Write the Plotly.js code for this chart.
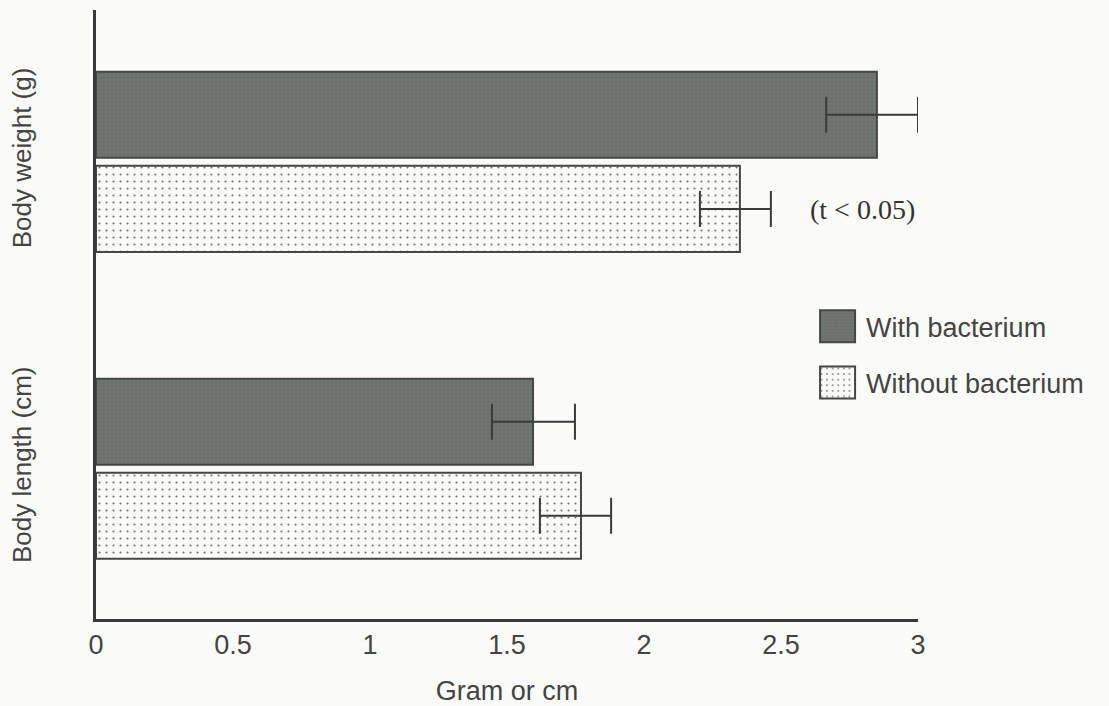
<!DOCTYPE html>
<html>
<head>
<meta charset="utf-8">
<script src="https://cdn.plot.ly/plotly-3.0.1.min.js"></script>
<style>
  html, body { margin: 0; padding: 0; background: #fbfbf9; }
  #chart { width: 1109px; height: 706px; }
</style>
</head>
<body>
<div id="chart"></div>
<script>
const categories = ['Body weight (g)', 'Body length (cm)'];
const seriesNames = ['With bacterium', 'Without bacterium'];
const withValues = [2.85, 1.595];
const withErrPlus = [0.15, 0.153];
const withErrMinus = [0.185, 0.15];
const withoutValues = [2.35, 1.77];
const withoutErrPlus = [0.113, 0.11];
const withoutErrMinus = [0.146, 0.15];
const xTickValues = [0, 0.5, 1, 1.5, 2, 2.5, 3];
const xTickLabels = ['0', '0.5', '1', '1.5', '2', '2.5', '3'];
const annotationText = '(t < 0.05)';

const errStyle = (plus, minus) => ({
  type: 'data', symmetric: false, array: plus, arrayminus: minus,
  color: '#3a3a3a', thickness: 2, width: 18
});

const traces = [
  {
    type: 'bar', orientation: 'h', name: seriesNames[0], legendgroup: 'a',
    y: categories, x: withValues,
    marker: {
      color: '#70746f',
      line: { color: '#444744', width: 2 },
      pattern: { shape: '+', fgcolor: '#7c807a', bgcolor: '#6b6f6a', size: 4, solidity: 0.25 }
    },
    error_x: errStyle(withErrPlus, withErrMinus),
    hoverinfo: 'x+y+name'
  },
  {
    type: 'bar', orientation: 'h', name: seriesNames[1], legendgroup: 'b',
    y: categories, x: withoutValues,
    marker: {
      color: '#fbfbf9',
      line: { color: '#444744', width: 2 },
      pattern: { shape: '.', fgcolor: '#707070', bgcolor: '#fbfbf9', size: 7, solidity: 0.07 }
    },
    error_x: errStyle(withoutErrPlus, withoutErrMinus),
    hoverinfo: 'x+y+name'
  }
];

const layout = {
  width: 1109, height: 706,
  paper_bgcolor: '#fbfbf9', plot_bgcolor: '#fbfbf9',
  margin: { l: 96, r: 191, t: 10, b: 87 },
  barmode: 'group', bargap: 0.387, bargroupgap: 0.085,
  font: { family: 'Liberation Sans, Arial, sans-serif', color: '#444' },
  showlegend: true,
  legend: {
    x: 0.876, y: 0.52, xanchor: 'left', yanchor: 'top',
    font: { size: 27, color: '#444' },
    bgcolor: 'rgba(0,0,0,0)', tracegroupgap: 18, itemwidth: 40
  },
  xaxis: {
    range: [0, 3], tickvals: xTickValues, ticktext: xTickLabels,
    showgrid: false, zeroline: false,
    showline: true, linecolor: '#3a3a3a', linewidth: 3,
    ticks: '', tickfont: { size: 27, color: '#444' },
    title: { text: 'Gram or cm', font: { size: 27, color: '#444' }, standoff: 24 }
  },
  yaxis: {
    type: 'category', categoryorder: 'array', categoryarray: categories,
    range: [1.49, -0.495],
    showgrid: false, zeroline: false,
    showline: true, linecolor: '#3a3a3a', linewidth: 3,
    ticks: '', tickangle: -90, ticklabelstandoff: 52,
    tickfont: { size: 26, color: '#444' }
  },
  annotations: [
    {
      xref: 'x', yref: 'paper', x: 2.6, y: 0.672, xanchor: 'left', yanchor: 'middle',
      text: annotationText, showarrow: false,
      font: { family: 'Liberation Serif, Times New Roman, serif', size: 28, color: '#333' }
    }
  ]
};

function enlargeLegendSwatches(gd) {
  gd.querySelectorAll('.legend .legendpoints path').forEach(p => {
    p.setAttribute('d', 'M14,16H-21V-16H14Z');
  });
}

Plotly.newPlot('chart', traces, layout, { displayModeBar: false, staticPlot: true }).then(gd => {
  enlargeLegendSwatches(gd);
  gd.on('plotly_afterplot', () => enlargeLegendSwatches(gd));
});
</script>
</body>
</html>
